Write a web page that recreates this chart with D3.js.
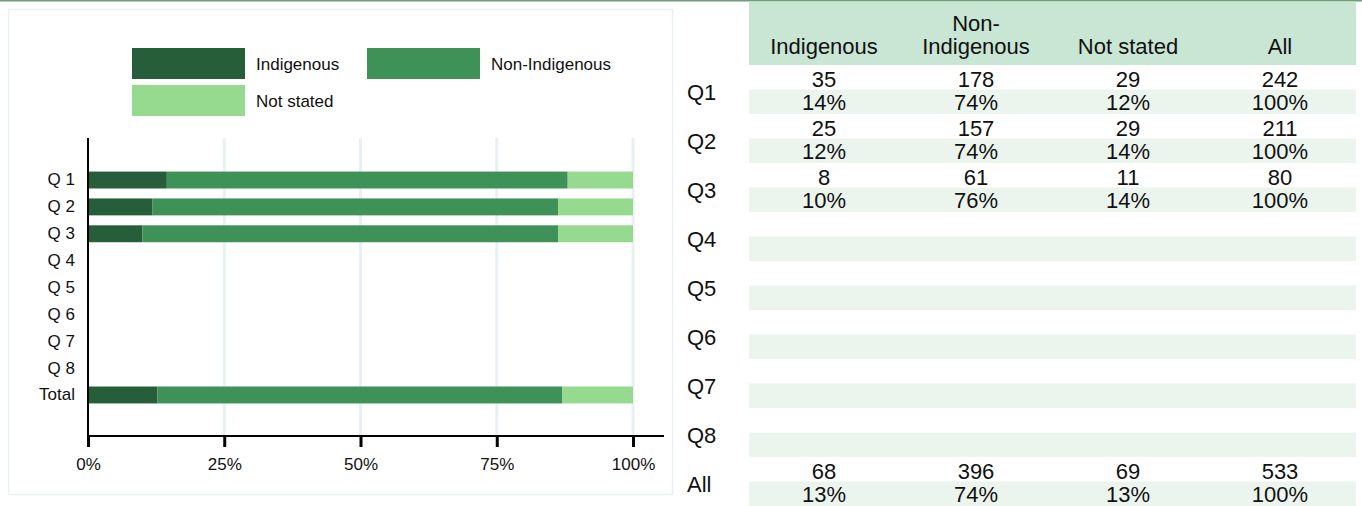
<!DOCTYPE html>
<html>
<head>
<meta charset="utf-8">
<script src="https://cdn.jsdelivr.net/npm/d3@7"></script>
<style>
  body { margin: 0; background: #fff; }
  svg { display: block; font-family: "Liberation Sans", Arial, sans-serif; }
</style>
</head>
<body>
<svg id="chart" width="1362" height="506"></svg>
<script>
// data
const questions = ["Q 1", "Q 2", "Q 3", "Q 4", "Q 5", "Q 6", "Q 7", "Q 8", "Total"]
const groups = ["Indigenous", "Non-Indigenous", "Not stated"]
const indigenous    = [35, 25, 8, null, null, null, null, null, 68]
const nonIndigenous = [178, 157, 61, null, null, null, null, null, 396]
const notStated     = [29, 29, 11, null, null, null, null, null, 69]
const xTicks = [0, 0.25, 0.5, 0.75, 1]

// table
const tableRows = ["Q1", "Q2", "Q3", "Q4", "Q5", "Q6", "Q7", "Q8", "All"]
const tableCols = ["Indigenous", "Non-\nIndigenous", "Not stated", "All"]
const tableCounts = [
  ["35", "178", "29", "242"],
  ["25", "157", "29", "211"],
  ["8", "61", "11", "80"],
  [], [], [], [], [],
  ["68", "396", "69", "533"]
]
const tablePcts = [
  ["14%", "74%", "12%", "100%"],
  ["12%", "74%", "14%", "100%"],
  ["10%", "76%", "14%", "100%"],
  [], [], [], [], [],
  ["13%", "74%", "13%", "100%"]
]

const colors = ["#275e3a", "#3e9258", "#95da8f"]

const svg = d3.select("#chart")

// green rule along the top
svg.append("rect").attr("x", 0).attr("y", 0).attr("width", 1362).attr("height", 1.5).attr("fill", "#6e9c7b")

// card behind the chart
svg.append("rect").attr("x", 8.5).attr("y", 9.5).attr("width", 664).attr("height", 485)
  .attr("fill", "#fff").attr("stroke", "#e9f0f1").attr("stroke-width", 1.5)

// ---- stacked bar chart ----
const x = d3.scaleLinear().domain([0, 1]).range([88, 633])
const y = d3.scaleBand().domain(questions).range([166.6, 408.4]).paddingInner(0.37).paddingOuter(0.185)
const plotTop = 138, plotBottom = 436

const stackData = questions.map((q, i) => {
  const tot = (indigenous[i] || 0) + (nonIndigenous[i] || 0) + (notStated[i] || 0)
  return {
    q: q,
    "Indigenous": tot ? indigenous[i] / tot : 0,
    "Non-Indigenous": tot ? nonIndigenous[i] / tot : 0,
    "Not stated": tot ? notStated[i] / tot : 0
  }
})
const series = d3.stack().keys(groups)(stackData)

// gridlines
svg.append("g").selectAll("line").data(xTicks.slice(1)).join("line")
  .attr("x1", d => x(d)).attr("x2", d => x(d))
  .attr("y1", plotTop).attr("y2", plotBottom)
  .attr("stroke", "#e7f0f2").attr("stroke-width", 3)

svg.append("g").selectAll("g").data(series).join("g")
  .attr("fill", (d, i) => colors[i])
  .selectAll("rect").data(d => d.filter(s => s[1] > s[0])).join("rect")
  .attr("x", d => x(d[0]))
  .attr("width", d => x(d[1]) - x(d[0]))
  .attr("y", d => y(d.data.q))
  .attr("height", y.bandwidth())

// x axis
const xAxis = d3.axisBottom(x).tickValues(xTicks).tickFormat(d3.format(".0%"))
  .tickSize(11).tickPadding(11)
const gx = svg.append("g").attr("transform", `translate(0,${plotBottom})`).call(xAxis)
gx.select(".domain").remove()
gx.selectAll(".tick line").attr("stroke", "#000").attr("stroke-width", 3)
gx.selectAll(".tick text").attr("font-size", 17).attr("fill", "#111").attr("font-family", null)
svg.append("line").attr("x1", x(0) - 1).attr("x2", x(1) + 31)
  .attr("y1", plotBottom).attr("y2", plotBottom).attr("stroke", "#000").attr("stroke-width", 2)

// y axis
const gy = svg.append("g").attr("transform", `translate(${x(0)},0)`)
  .call(d3.axisLeft(y).tickSize(0).tickPadding(13))
gy.select(".domain").remove()
gy.selectAll(".tick text").attr("font-size", 17).attr("fill", "#111").attr("font-family", null)
svg.append("line").attr("x1", x(0)).attr("x2", x(0))
  .attr("y1", plotTop).attr("y2", plotBottom + 1).attr("stroke", "#000").attr("stroke-width", 2)

// legend
const legendPos = [[132, 48], [367, 48], [132, 85]]
const lg = svg.append("g").selectAll("g").data(groups).join("g")
  .attr("transform", (d, i) => `translate(${legendPos[i][0]},${legendPos[i][1]})`)
lg.append("rect").attr("width", 113).attr("height", 31).attr("fill", (d, i) => colors[i])
lg.append("text").attr("x", 124).attr("y", 22).attr("font-size", 17).attr("fill", "#111").text(d => d)

// ---- table ----
const rowY = d3.scaleBand().domain(tableRows).range([65, 506])
const colX = d3.scaleBand().domain(tableCols).range([748, 1356])
const tbl = svg.append("g")

tbl.append("rect").attr("x", 749).attr("y", 1.5).attr("width", 607).attr("height", 63.5).attr("fill", "#c8e6d3")
tbl.selectAll("rect.band").data(tableRows).join("rect").attr("class", "band")
  .attr("x", 749).attr("width", 607)
  .attr("y", d => rowY(d) + rowY.bandwidth() / 2).attr("height", rowY.bandwidth() / 2)
  .attr("fill", "#ebf5ee")

tbl.selectAll("text.head").data(tableCols).join("text").attr("class", "head")
  .attr("text-anchor", "middle").attr("font-size", 22).attr("fill", "#111")
  .each(function (d) {
    const lines = d.split("\n")
    d3.select(this).selectAll("tspan").data(lines).join("tspan")
      .attr("x", colX(d) + colX.bandwidth() / 2)
      .attr("y", (l, j) => 54 - (lines.length - 1 - j) * 23.5)
      .text(l => l)
  })

tbl.selectAll("text.rowlab").data(tableRows).join("text").attr("class", "rowlab")
  .attr("x", 687).attr("y", d => rowY(d) + 35)
  .attr("font-size", 22).attr("fill", "#111").text(d => d)

tableRows.forEach((r, i) => {
  tbl.append("g").selectAll("text").data(tableCounts[i]).join("text")
    .attr("x", (d, j) => colX(tableCols[j]) + colX.bandwidth() / 2)
    .attr("y", rowY(r) + 22)
    .attr("text-anchor", "middle").attr("font-size", 22).attr("fill", "#111").text(d => d)
  tbl.append("g").selectAll("text").data(tablePcts[i]).join("text")
    .attr("x", (d, j) => colX(tableCols[j]) + colX.bandwidth() / 2)
    .attr("y", rowY(r) + 45)
    .attr("text-anchor", "middle").attr("font-size", 22).attr("fill", "#111").text(d => d)
})
</script>
</body>
</html>
